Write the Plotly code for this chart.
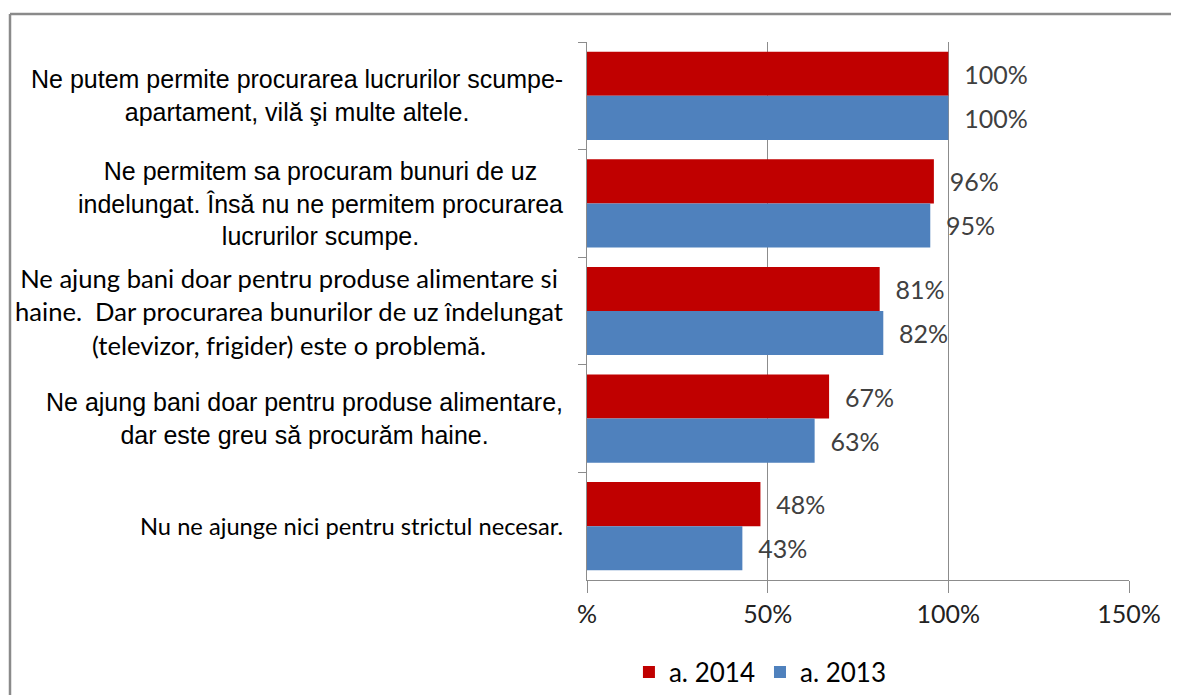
import plotly.graph_objects as go

categories = [
    "Ne putem permite procurarea lucrurilor scumpe-<br>apartament, vilă şi multe altele.",
    "Ne permitem sa procuram bunuri de uz<br>indelungat. Însă nu ne permitem procurarea<br>lucrurilor scumpe.",
    "Ne ajung bani doar pentru produse alimentare si<br>haine.  Dar procurarea bunurilor de uz îndelungat<br>(televizor, frigider) este o problemă.",
    "Ne ajung bani doar pentru produse alimentare,<br>dar este greu să procurăm haine.",
    "Nu ne ajunge nici pentru strictul necesar.",
]
series_names = ["a. 2014", "a. 2013"]
values_2014 = [100, 96, 81, 67, 48]
values_2013 = [100, 95, 82, 63, 43]
tick_vals = [0, 50, 100, 150]
tick_text = ["%", "50%", "100%", "150%"]

label_fonts = [
    dict(family="Liberation Sans, Arial", size=25),
    dict(family="Liberation Sans, Arial", size=25),
    dict(family="Lato", size=25.6),
    dict(family="Liberation Sans, Arial", size=25),
    dict(family="Lato", size=23.7),
]

# page body has an 8px margin; figure sized to fit the 1179x695 window
W, H = 1171, 687
L, R, T, B = 579, 50, 34, 115

fig = go.Figure()
for name, vals, color in [(series_names[0], values_2014, "#C00000"),
                          (series_names[1], values_2013, "#4F81BD")]:
    fig.add_trace(go.Bar(
        y=categories, x=vals, name=name, orientation="h",
        marker=dict(color=color, line=dict(width=0)),
        text=[f"{v}%" for v in vals], texttemplate="  %{text}",
        textposition="outside", cliponaxis=False,
        textfont=dict(family="Lato", size=25, color="#404040"),
    ))

for cat, f in zip(categories, label_fonts):
    fig.add_annotation(
        x=-0.041, xref="paper", y=cat, yref="y", xanchor="right", yanchor="middle",
        text=cat, align="center", showarrow=False,
        font=dict(color="#000000", **f),
    )

pw = W - L - R
ph = H - T - B
bx = (2 - L) / pw
by = (H - B - 6) / ph
border = dict(color="#8a8a8a", width=2.5)
fig.add_shape(type="line", xref="paper", yref="paper",
              x0=bx, x1=(W + 10 - L) / pw, y0=by, y1=by, line=border, layer="below")
fig.add_shape(type="line", xref="paper", yref="paper",
              x0=bx, x1=bx, y0=by, y1=(H - B - (H + 10)) / ph, line=border, layer="below")

fig.update_layout(
    width=W, height=H, margin=dict(l=L, r=R, t=T, b=B, autoexpand=False),
    paper_bgcolor="white", plot_bgcolor="white",
    barmode="group", bargap=0.18, bargroupgap=0,
    showlegend=True,
    legend=dict(orientation="h", x=0.32, xanchor="center",
                yref="container", y=(H - 664) / H, yanchor="middle",
                font=dict(family="Lato", size=26, color="#000000"),
                itemwidth=30, traceorder="normal"),
)
fig.update_xaxes(range=[0, 150], tickvals=tick_vals, ticktext=tick_text,
                 showgrid=True, gridcolor="#8c8c8c", gridwidth=1,
                 showline=True, linecolor="#8c8c8c", linewidth=1,
                 ticks="outside", ticklen=12, tickcolor="#8c8c8c",
                 tickfont=dict(family="Lato", size=25, color="#222222"),
                 zeroline=False, fixedrange=True)
fig.update_yaxes(autorange="reversed", showticklabels=False,
                 showline=True, linecolor="#8c8c8c", linewidth=1,
                 ticks="outside", ticklen=8, tickcolor="#8c8c8c",
                 tickson="boundaries", showgrid=False, fixedrange=True)

fig.write_html("out.html")
